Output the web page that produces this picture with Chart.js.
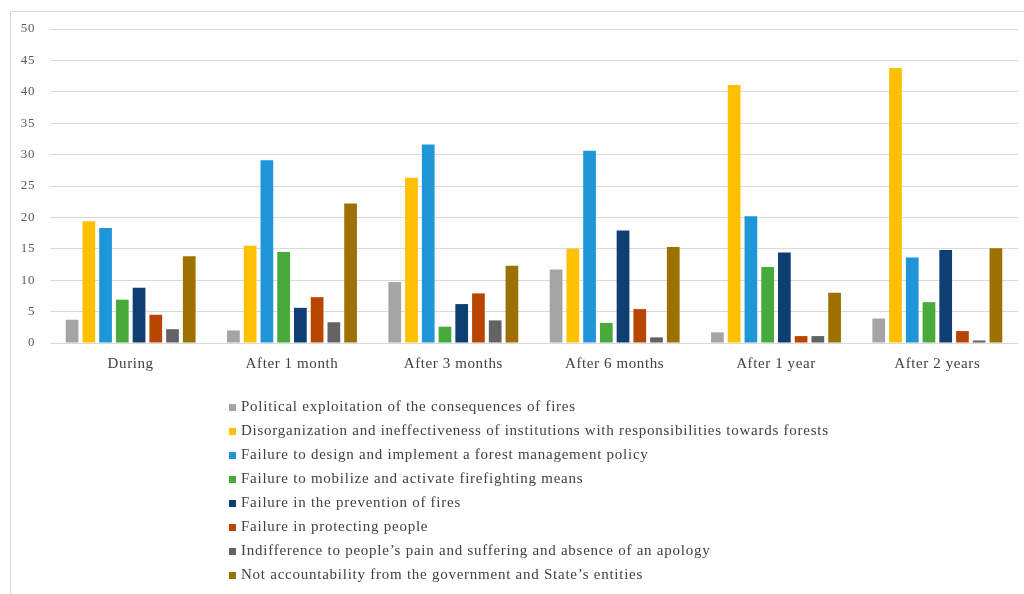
<!DOCTYPE html>
<html>
<head>
<meta charset="utf-8">
<script src="https://cdn.jsdelivr.net/npm/chart.js@4/dist/chart.umd.min.js"></script>
<style>
    body { margin: 0; background: #fff; width: 1024px; height: 594px; overflow: hidden; position: relative; }
    #frame { position: absolute; left: 10px; top: 11px; width: 1040px; height: 620px; border: 1px solid #d9d9d9; }
    #chart { position: absolute; left: 0; top: 0; }
    #legend { position: absolute; left: 229px; top: 394px; font-family: "Liberation Serif", serif; font-size: 15px; letter-spacing: 0.75px; color: #404040; }
    #legend div { height: 24px; line-height: 24px; white-space: nowrap; }
    #legend span { display: inline-block; width: 7px; height: 7px; margin-right: 5px; vertical-align: 0px; }
</style>
</head>
<body>
<div id="frame"></div>
<canvas id="chart" width="1024" height="594"></canvas>
<div id="legend"></div>
<script>
// Périodes et causes
const periods = ['During', 'After 1 month', 'After 3 months', 'After 6 months', 'After 1 year', 'After 2 years'];
const causes = [
    'Political exploitation of the consequences of fires',
    'Disorganization and ineffectiveness of institutions with responsibilities towards forests',
    'Failure to design and implement a forest management policy',
    'Failure to mobilize and activate firefighting means',
    'Failure in the prevention of fires',
    'Failure in protecting people',
    'Indifference to people\u2019s pain and suffering and absence of an apology',
    'Not accountability from the government and State\u2019s entities'
];
const colors = ['#a5a5a5', '#ffc000', '#1f96d8', '#46ab3a', '#0f3e73', '#b84600', '#636363', '#9e7000'];

// Valeurs par cause (une valeur par période)
const political      = [3.7, 2.0, 9.7, 11.7, 1.7, 3.9];
const disorganization = [19.4, 15.5, 26.3, 15.0, 41.1, 43.8];
const policyFailure  = [18.3, 29.1, 31.6, 30.6, 20.2, 13.6];
const mobilization   = [6.9, 14.5, 2.6, 3.2, 12.1, 6.5];
const prevention     = [8.8, 5.6, 6.2, 17.9, 14.4, 14.8];
const protection     = [4.5, 7.3, 7.9, 5.4, 1.1, 1.9];
const indifference   = [2.2, 3.3, 3.6, 0.9, 1.1, 0.4];
const accountability = [13.8, 22.2, 12.3, 15.3, 8.0, 15.1];
const yTicks = [0, 5, 10, 15, 20, 25, 30, 35, 40, 45, 50];

const series = [political, disorganization, policyFailure, mobilization, prevention, protection, indifference, accountability];

const datasets = series.map((values, i) => ({
    label: causes[i],
    data: values,
    backgroundColor: colors[i],
    borderWidth: 0,
    categoryPercentage: 0.83,
    barPercentage: 0.76
}));

const serif = '"Liberation Serif", serif';

// Espacement des lettres pour les textes du canvas
const spacingPlugin = {
    id: 'spacing',
    beforeDraw: chart => { chart.ctx.letterSpacing = '0.6px'; }
};

new Chart(document.getElementById('chart'), {
    type: 'bar',
    data: { labels: periods, datasets: datasets },
    plugins: [spacingPlugin],
    options: {
        responsive: false,
        animation: false,
        layout: { padding: { left: 0, right: 6, top: 29, bottom: 0 } },
        plugins: {
            legend: { display: false },
            tooltip: { enabled: false }
        },
        scales: {
            x: {
                grid: { display: false, drawTicks: false },
                border: { display: false },
                ticks: { color: '#404040', font: { family: serif, size: 15 }, padding: 12 },
                afterFit: scale => { scale.height = 251; }
            },
            y: {
                min: 0,
                max: 50,
                afterBuildTicks: scale => { scale.ticks = yTicks.map(v => ({ value: v })); },
                grid: { color: '#d9d9d9', lineWidth: 1, drawTicks: false },
                border: { display: false },
                ticks: { color: '#595959', font: { family: serif, size: 13 }, padding: 15 },
                afterFit: scale => { scale.width = 50; }
            }
        }
    }
});

// Légende verticale sous le graphique
const legend = document.getElementById('legend');
causes.forEach((name, i) => {
    const row = document.createElement('div');
    const box = document.createElement('span');
    box.style.background = colors[i];
    row.appendChild(box);
    row.appendChild(document.createTextNode(name));
    legend.appendChild(row);
});
</script>
</body>
</html>
